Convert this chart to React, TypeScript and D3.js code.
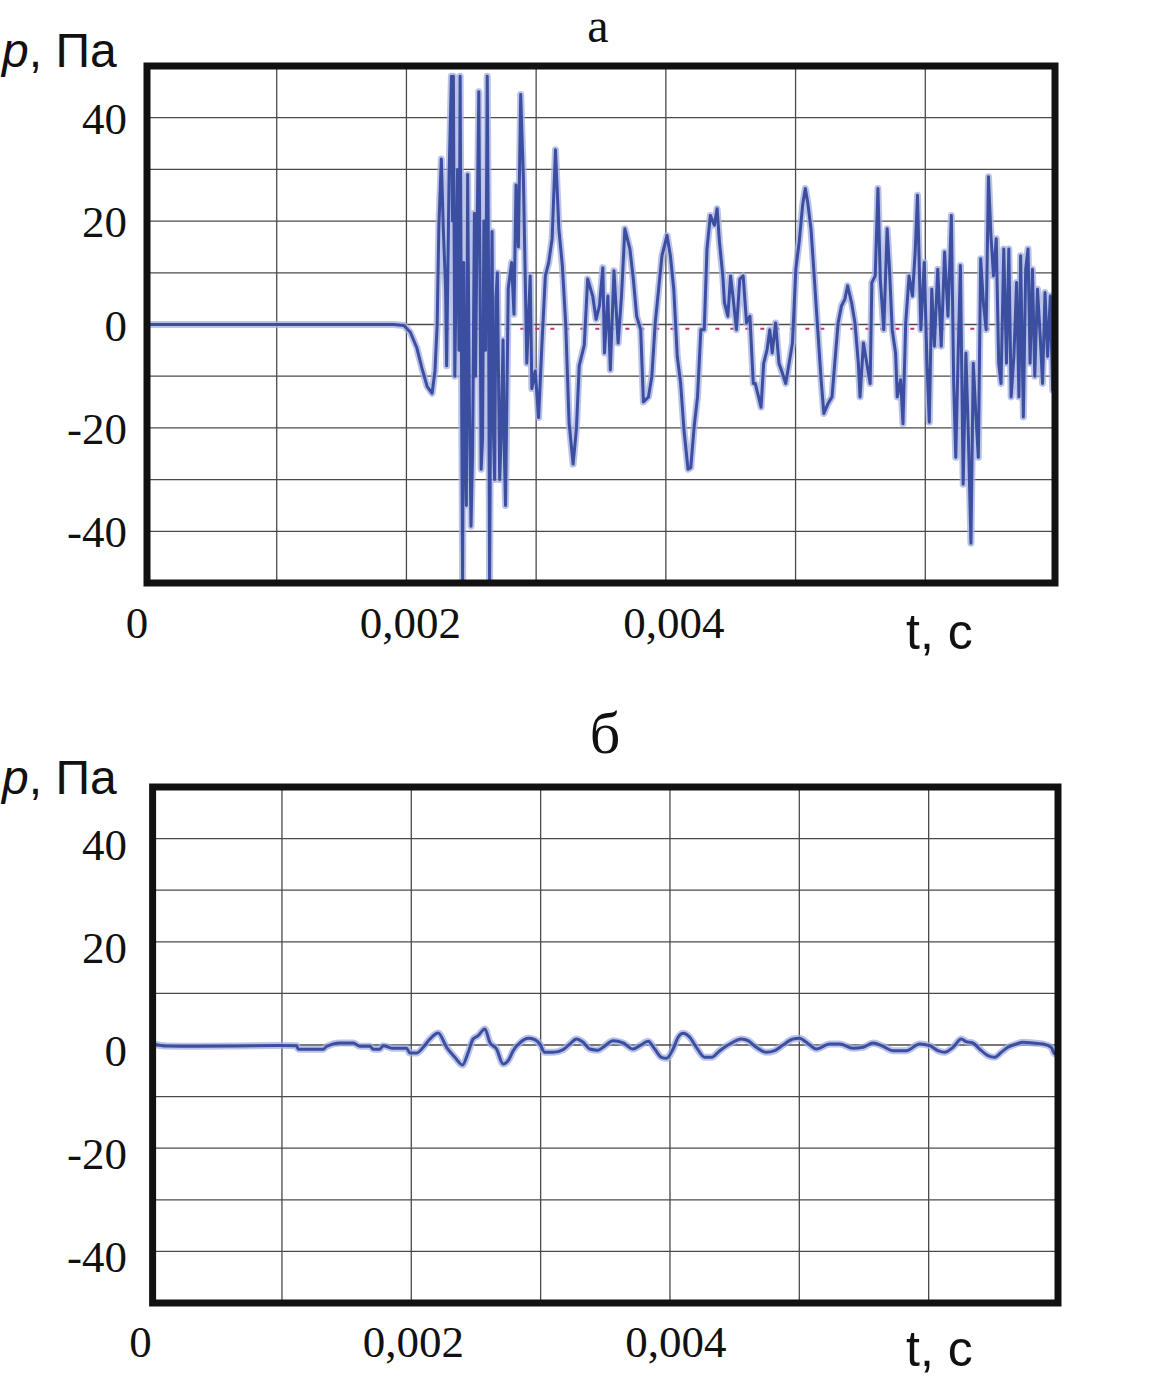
import React from 'react';
import * as d3 from 'd3';

// axis ticks
const timeTicks = [0, 0.002, 0.004];
const timeTickLabels = ['0', '0,002', '0,004'];
const pressureTicks = [40, 20, 0, -20, -40];
const gridTimes = [0.001, 0.002, 0.003, 0.004, 0.005, 0.006];
const gridPressures = [-40, -30, -20, -10, 0, 10, 20, 30, 40];

// panel а: time, ms
const timeA = [
  0, 1.0, 1.9, 1.98, 2.03, 2.08, 2.12, 2.16, 2.198, 2.22, 2.237, 2.25, 2.269, 2.285, 2.302, 2.31, 2.329, 2.347,
  2.355, 2.362, 2.373, 2.394, 2.405, 2.414, 2.433, 2.442, 2.451, 2.462, 2.472, 2.485, 2.498, 2.51, 2.524, 2.533,
  2.54, 2.558, 2.567, 2.576, 2.587, 2.597, 2.61, 2.623, 2.632, 2.641, 2.65, 2.66, 2.67, 2.68, 2.69, 2.701, 2.71,
  2.719, 2.73, 2.745, 2.755, 2.764, 2.785, 2.811, 2.829, 2.845, 2.863, 2.881, 2.902, 2.928, 2.954, 2.967, 2.993,
  3.019, 3.045, 3.071, 3.097, 3.123, 3.149, 3.175, 3.202, 3.228, 3.254, 3.285, 3.311, 3.332, 3.371, 3.397, 3.436,
  3.462, 3.488, 3.514, 3.527, 3.553, 3.572, 3.6, 3.632, 3.658, 3.684, 3.723, 3.749, 3.775, 3.806, 3.827, 3.866,
  3.892, 3.918, 3.944, 3.97, 4.009, 4.035, 4.061, 4.088, 4.114, 4.14, 4.171, 4.192, 4.218, 4.244, 4.27, 4.296,
  4.317, 4.343, 4.374, 4.395, 4.413, 4.439, 4.452, 4.478, 4.499, 4.517, 4.544, 4.57, 4.596, 4.622, 4.648, 4.674,
  4.689, 4.715, 4.734, 4.754, 4.78, 4.801, 4.82, 4.846, 4.872, 4.898, 4.924, 4.95, 4.976, 5.002, 5.028, 5.054,
  5.075, 5.093, 5.119, 5.145, 5.171, 5.197, 5.218, 5.25, 5.281, 5.302, 5.328, 5.354, 5.38, 5.401, 5.432, 5.458,
  5.484, 5.497, 5.523, 5.549, 5.575, 5.588, 5.614, 5.635, 5.653, 5.68, 5.706, 5.724, 5.745, 5.771, 5.784, 5.81,
  5.828, 5.849, 5.875, 5.901, 5.922, 5.94, 5.966, 5.992, 6.013, 6.031, 6.05, 6.07, 6.096, 6.123, 6.149, 6.175,
  6.201, 6.219, 6.235, 6.253, 6.271, 6.292, 6.313, 6.331, 6.352, 6.37, 6.391, 6.409, 6.427, 6.448, 6.469, 6.487,
  6.506, 6.526, 6.547, 6.566, 6.584, 6.605, 6.626, 6.644, 6.662, 6.683, 6.704, 6.722, 6.735, 6.756, 6.774, 6.792,
  6.808, 6.826, 6.844, 6.865, 6.886, 6.904, 6.923, 6.943, 6.964, 6.982, 7.0,
];

// panel а: pressure, Pa
const pressureA = [
  0, 0, 0, -0.2, -1.5, -4.5, -8.5, -12, -13.3, -9, 0, 19, 32, 18, 7, -8, 29, 48,
  20, 48, -10, 30, -5, 48, -50, 12, -20, -35, 29, -15, -39, -25, 21.5, -10,
  8, 45, 10, -28, -22, 20, -5, 48, 15, -50, -10, 18, -20, -30, 5, 10, -10,
  -30, -22, -3, -25, -35, 7, 12, 2, 27, 15, 44.5, 28, -7.5, 9.4, -12.4, -9,
  -18, -3.6, 9.4, 12, 16.6, 33.8, 18.5, 11.4, 0, -19, -27, -20, -8, -4, 8.8, 5.5,
  1, 3.6, 11, -5.5, 5.5, -8.8, 10.4, -3.6, 5.5, 18.5, 14.6, 8.8, 1.6, -1, -15, -14,
  -10, 0.3, 6.8, 13.3, 17.2, 13.3, 6.8, -6.2, -11.4, -20.5, -28, -27.7, -19.8, -14, -1, -1,
  14.6, 21.1, 19.2, 22.4, 16, 9.4, 4.2, 1.6, 9.4, 5.5, -1, 8.8, 9.4, 0.3, 1.6, -11.4,
  -11.4, -14, -16, -7.5, -4.9, -1, -5.5, 0.3, -7.5, -9.4, -11.4, -7.5, -3.6, 10.7, 16, 23,
  26.3, 23.7, 18.5, 8.8, -1, -10.7, -17.2, -15.3, -14, -7.5, 0.3, 3.6, 4.9, 7.5, 4.2, 0.3,
  -7.5, -14, -3.6, -7.5, -11.4, 8.1, 9.4, 26.3, 8.8, -1, 18.5, 10.7, -1, -5.5, -14, -10.7,
  -19.2, 0.3, 9.4, 5.5, 14, 25, -1, 12, -7.5, -18.9, 6.8, -4.2, 10.7, -4.2, 14, 1.6,
  21.1, -11.4, -25.7, -6.2, 11.4, -30.9, -5.5, -20.5, -42.3, -7.5, -17.9, -25.7, 12.7, 4.2, -1, 28.6,
  17.2, 9.4, 16.6, -7.5, -11.4, 14.6, -7.5, 14.6, -14, -6.2, 8.1, -14, 13.3, -17.9, 10.7, 14.6,
  -7.5, 10.7, -10, 6.8, -2.3, -11.4, 6.2, -6.2, 5.5, -12.7, 5.5,
];

// panel б: time, ms
const timeB = [
  0, 0.109, 0.315, 0.985, 1.113, 1.126, 1.319, 1.345, 1.448, 1.551, 1.603, 1.68, 1.706, 1.757, 1.783, 1.86,
  1.964, 1.989, 2.041, 2.092, 2.144, 2.208, 2.273, 2.337, 2.396, 2.44, 2.478, 2.517, 2.569, 2.607, 2.659, 2.71,
  2.749, 2.788, 2.839, 2.904, 2.955, 2.994, 3.032, 3.097, 3.174, 3.226, 3.277, 3.329, 3.38, 3.444, 3.483, 3.56,
  3.638, 3.715, 3.767, 3.831, 3.882, 3.934, 3.973, 4.024, 4.063, 4.101, 4.153, 4.204, 4.269, 4.32, 4.385, 4.462,
  4.552, 4.604, 4.668, 4.745, 4.81, 4.874, 4.952, 5.003, 5.055, 5.132, 5.235, 5.312, 5.415, 5.492, 5.57, 5.647,
  5.724, 5.827, 5.93, 6.008, 6.072, 6.123, 6.188, 6.252, 6.291, 6.342, 6.394, 6.458, 6.51, 6.561, 6.613, 6.677,
  6.729, 6.806, 6.883, 6.948, 6.974, 7.0,
];

// panel б: pressure, Pa
const pressureB = [
  0.2, -0.2, -0.25, -0.1, -0.15, -0.8, -0.8, -0.3, 0.4, 0.4, -0.25, -0.25, -0.8, -0.8, -0.15, -0.65,
  -0.65, -1.55, -1.55, -0.45, 1.16, 2.33, -0.45, -2.39, -3.88, -1.42, 1.16, 1.81, 3.1, 0.52, -0.78, -3.68,
  -3.04, -1.1, 0.39, 1.29, 1.03, 0.19, -1.42, -1.42, -0.9, 0.19, 1.16, 0.52, -0.78, -1.0, -0.45, 0.84,
  0.39, -0.78, -0.13, 0.71, -0.78, -2.39, -2.58, -0.78, 1.49, 2.26, 1.49, -0.45, -2.39, -2.39, -1.1, 0.19,
  1.16, 0.84, -0.45, -1.42, -1.1, 0, 1.16, 1.29, 0.52, -0.78, 0.19, 0.19, -0.65, -0.45, 0.39, -0.26,
  -1.1, -1.1, 0.19, -0.13, -1.1, -1.42, -0.45, 1.16, 0.65, 0.39, -0.78, -2.07, -2.39, -1.42, -0.45, 0.19,
  0.52, 0.39, 0.19, -0.45, -1.74, -1.2,
];

type Pt = [number, number];

const zip = (ts: number[], ps: number[]): Pt[] => ts.map((t, i) => [t / 1000, ps[i]] as Pt);

const serif = '"Liberation Serif", "Times New Roman", serif';
const sans = '"Liberation Sans", Arial, sans-serif';

interface PanelProps {
  id: string;
  title: string;
  titleX: number;
  titleY: number;
  titleSize: number;
  data: Pt[];
  left: number;
  right: number;
  top: number;
  bottom: number;
  unitY: number;
  yLabelDy: number;
  xLabelY: number;
  xLabelShift: number[];
  tLabelY: number;
  curve: d3.CurveFactory;
  dashedZero: boolean;
}

const Panel: React.FC<PanelProps> = p => {
  const x = d3.scaleLinear().domain([0, 0.007]).range([p.left, p.right]);
  const y = d3.scaleLinear().domain([-50, 50]).range([p.bottom, p.top]);
  const line = d3
    .line<Pt>()
    .x(d => x(d[0]))
    .y(d => y(d[1]))
    .curve(p.curve);
  const path = line(p.data) ?? '';
  const zeroLine = d3.line<Pt>().x(d => x(d[0])).y(d => y(d[1]))([
    [0.0023, -0.8],
    [0.007, -0.8],
  ]) ?? '';

  return (
    <g>
      <defs>
        <clipPath id={`clip-${p.id}`}>
          <rect x={p.left} y={p.top} width={p.right - p.left} height={p.bottom - p.top} />
        </clipPath>
      </defs>
      <text x={p.titleX} y={p.titleY} fontFamily={serif} fontSize={p.titleSize} textAnchor="middle" fill="#111">
        {p.title}
      </text>
      <text x={2} y={p.unitY} fontFamily={sans} fontSize={48} fill="#111">
        <tspan fontStyle="italic">p</tspan>, Па
      </text>
      <g stroke="#4a4a4a" strokeWidth={1.3}>
        {gridTimes.map(t => (
          <line key={`vx${t}`} x1={x(t)} x2={x(t)} y1={p.top} y2={p.bottom} />
        ))}
        {gridPressures.map(v => (
          <line key={`hy${v}`} x1={p.left} x2={p.right} y1={y(v)} y2={y(v)} />
        ))}
      </g>
      <g clipPath={`url(#clip-${p.id})`}>
        {p.dashedZero && (
          <path d={zeroLine} fill="none" stroke="#c8326e" strokeWidth={2} strokeDasharray="4 11" />
        )}
        <path d={path} fill="none" stroke="#a4afe0" strokeOpacity={0.75} strokeWidth={7} strokeLinejoin="round" />
        <path d={path} fill="none" stroke="#3b4ea0" strokeWidth={3} strokeLinejoin="round" />
      </g>
      <rect
        x={p.left}
        y={p.top}
        width={p.right - p.left}
        height={p.bottom - p.top}
        fill="none"
        stroke="#111"
        strokeWidth={7}
      />
      {pressureTicks.map(v => (
        <text
          key={`yl${v}`}
          x={127}
          y={y(v) + p.yLabelDy}
          textAnchor="end"
          fontFamily={serif}
          fontSize={45}
          fill="#111"
        >
          {v}
        </text>
      ))}
      {timeTicks.map((t, i) => (
        <text
          key={`xl${t}`}
          x={x(t) + p.xLabelShift[i]}
          y={p.xLabelY}
          textAnchor="middle"
          fontFamily={serif}
          fontSize={45}
          fill="#111"
        >
          {timeTickLabels[i]}
        </text>
      ))}
      <text x={906} y={p.tLabelY} fontFamily={sans} fontSize={50} fill="#111">
        t, c
      </text>
    </g>
  );
};

const App: React.FC = () => {
  const dataA = zip(timeA, pressureA);
  const dataB = zip(timeB, pressureB);
  return (
    <div style={{ position: 'absolute', left: 0, top: 0, background: '#fff' }}>
      <svg width={1158} height={1376} viewBox="0 0 1158 1376" style={{ display: 'block' }}>
        <rect width={1158} height={1376} fill="#fff" />
        <Panel
          id="a"
          title="а"
          titleX={598}
          titleY={42}
          titleSize={48}
          data={dataA}
          left={147}
          right={1055}
          top={66}
          bottom={583}
          unitY={67}
          yLabelDy={16}
          xLabelY={638}
          xLabelShift={[-10, 4, 8]}
          tLabelY={649}
          curve={d3.curveLinear}
          dashedZero={true}
        />
        <Panel
          id="b"
          title="б"
          titleX={605}
          titleY={753}
          titleSize={60}
          data={dataB}
          left={152.6}
          right={1058}
          top={787}
          bottom={1303}
          unitY={794}
          yLabelDy={21}
          xLabelY={1357}
          xLabelShift={[-12, 2, 6]}
          tLabelY={1366}
          curve={d3.curveMonotoneX}
          dashedZero={false}
        />
      </svg>
    </div>
  );
};

export default App;
